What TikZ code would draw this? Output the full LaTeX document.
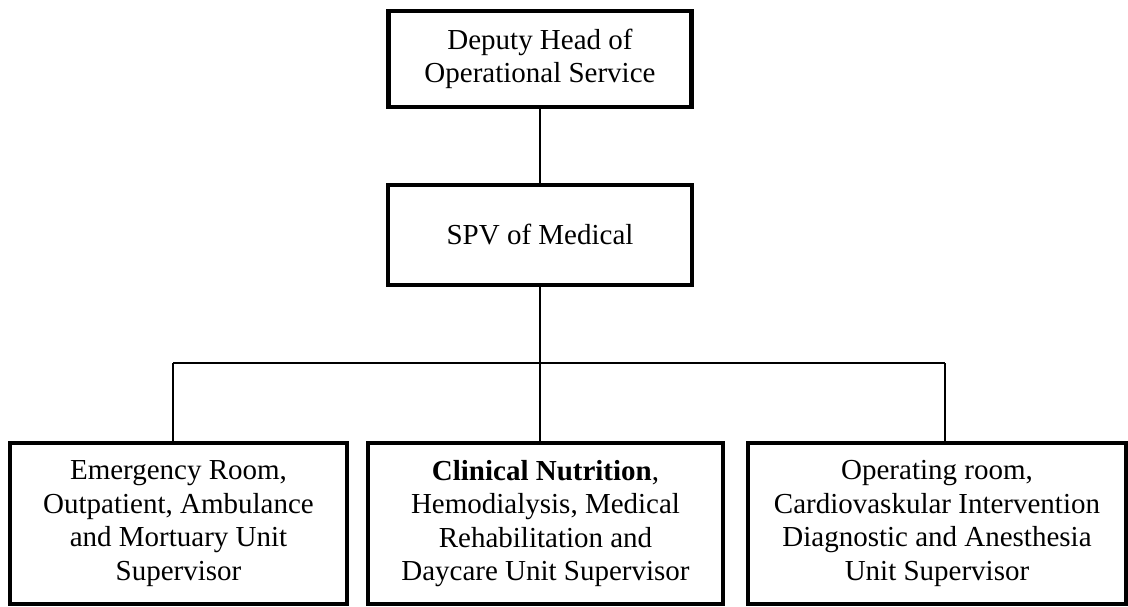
\documentclass[tikz,border=0pt]{standalone}
\usepackage{fontspec}
\setmainfont{Liberation Serif}
\begin{document}
\begin{tikzpicture}[x=1pt,y=-1pt,
  orgbox/.style={draw=black, line width=4.5pt, fill=white, rectangle,
    inner sep=0pt, align=center,
    font=\fontsize{29}{33.5}\selectfont},
  link/.style={draw=black, line width=1.4pt}]
  \useasboundingbox (0,0) rectangle (1128,606);

  % upper levels
  \node[orgbox, minimum width=303pt, minimum height=96pt] (head) at (540,59)
    {Deputy Head of\\Operational Service};
  \node[orgbox, minimum width=304pt, minimum height=100pt] (spv) at (540,235)
    {SPV of Medical};

  % unit supervisors
  \node[orgbox, minimum width=337pt, minimum height=161pt] (b1) at (178.5,523.5)
    {Emergency Room,\\Outpatient, Ambulance\\and Mortuary Unit\\Supervisor};
  \node[orgbox, minimum width=355pt, minimum height=161pt] (b2) at (545.5,523.5)
    {\textbf{Clinical Nutrition},\\Hemodialysis, Medical\\Rehabilitation and\\Daycare Unit Supervisor};
  \node[orgbox, minimum width=378pt, minimum height=161pt] (b3) at (937,523.5)
    {Operating room,\\Cardiovaskular Intervention\\Diagnostic and Anesthesia\\Unit Supervisor};

  % branch points of the bus line
  \coordinate (j1) at (173,363);
  \coordinate (j2) at (540,363);
  \coordinate (j3) at (945,363);

  \draw[link] (head.south) -- (spv.north);
  \draw[link] (spv.south) -- (j2);
  \draw[link] (j1) -- (j3);
  \draw[link] (j1) -- (j1 |- b1.north);
  \draw[link] (j2) -- (j2 |- b2.north);
  \draw[link] (j3) -- (j3 |- b3.north);
\end{tikzpicture}
\end{document}
